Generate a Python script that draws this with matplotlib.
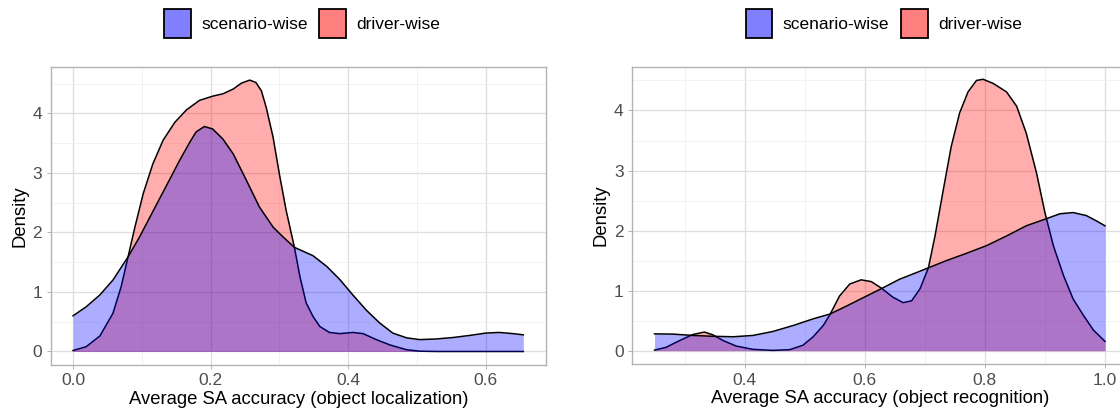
import matplotlib
matplotlib.use("Agg")
import matplotlib.pyplot as plt
from matplotlib.patches import Patch
from matplotlib.ticker import MultipleLocator

# Density curves (x, density)
loc_scen_x = [0.0, 0.019, 0.039, 0.058, 0.080, 0.097, 0.116, 0.136, 0.155, 0.170,
              0.179, 0.191, 0.203, 0.218, 0.233, 0.252, 0.271, 0.291, 0.305, 0.322,
              0.349, 0.369, 0.388, 0.407, 0.427, 0.446, 0.465, 0.485, 0.504, 0.528,
              0.553, 0.577, 0.601, 0.620, 0.640, 0.655]
loc_scen_y = [0.60, 0.75, 0.95, 1.20, 1.59, 1.93, 2.35, 2.79, 3.21, 3.52,
              3.69, 3.78, 3.74, 3.57, 3.32, 2.88, 2.43, 2.09, 1.93, 1.75,
              1.61, 1.43, 1.21, 0.95, 0.69, 0.48, 0.31, 0.23, 0.20, 0.21,
              0.235, 0.27, 0.31, 0.32, 0.30, 0.28]

loc_drv_x = [0.0, 0.019, 0.039, 0.058, 0.070, 0.080, 0.090, 0.102, 0.116, 0.131,
             0.148, 0.165, 0.184, 0.203, 0.218, 0.233, 0.245, 0.257, 0.266, 0.274,
             0.281, 0.291, 0.300, 0.310, 0.322, 0.330, 0.339, 0.349, 0.359, 0.373,
             0.388, 0.407, 0.422, 0.441, 0.461, 0.485, 0.504, 0.530, 0.600, 0.655]
loc_drv_y = [0.017, 0.08, 0.26, 0.64, 1.09, 1.59, 2.09, 2.65, 3.15, 3.55,
             3.85, 4.06, 4.22, 4.29, 4.33, 4.41, 4.51, 4.56, 4.52, 4.38,
             4.10, 3.60, 2.99, 2.37, 1.75, 1.26, 0.82, 0.59, 0.42, 0.32,
             0.30, 0.32, 0.30, 0.20, 0.11, 0.03, 0.005, 0.0, 0.0, 0.0]

rec_scen_x = [0.25, 0.281, 0.314, 0.347, 0.381, 0.414, 0.447, 0.481, 0.514, 0.542,
              0.569, 0.603, 0.631, 0.658, 0.686, 0.706, 0.736, 0.769, 0.803, 0.836,
              0.869, 0.903, 0.925, 0.947, 0.969, 0.986, 1.0]
rec_scen_y = [0.28, 0.276, 0.254, 0.24, 0.232, 0.254, 0.32, 0.42, 0.53, 0.61,
              0.74, 0.91, 1.05, 1.19, 1.30, 1.38, 1.50, 1.62, 1.75, 1.91,
              2.08, 2.20, 2.28, 2.30, 2.25, 2.16, 2.08]

rec_drv_x = [0.25, 0.269, 0.292, 0.314, 0.333, 0.347, 0.364, 0.386, 0.414, 0.447,
             0.475, 0.497, 0.514, 0.531, 0.542, 0.558, 0.575, 0.594, 0.611, 0.628,
             0.647, 0.664, 0.678, 0.692, 0.706, 0.717, 0.731, 0.744, 0.758, 0.772,
             0.786, 0.797, 0.814, 0.836, 0.853, 0.869, 0.886, 0.900, 0.914, 0.931,
             0.947, 0.964, 0.981, 1.0]
rec_drv_y = [0.01, 0.055, 0.17, 0.27, 0.31, 0.265, 0.17, 0.077, 0.022, 0.005,
             0.017, 0.09, 0.23, 0.42, 0.60, 0.91, 1.11, 1.18, 1.15, 1.04,
             0.89, 0.80, 0.83, 1.03, 1.38, 1.91, 2.69, 3.40, 3.96, 4.31,
             4.50, 4.52, 4.45, 4.31, 4.07, 3.62, 2.96, 2.30, 1.75, 1.25,
             0.86, 0.59, 0.34, 0.155]

x_labels = ["Average SA accuracy (object localization)",
            "Average SA accuracy (object recognition)"]
x_ticks = [[0.0, 0.2, 0.4, 0.6], [0.4, 0.6, 0.8, 1.0]]
group_names = ["scenario-wise", "driver-wise"]

BLUE = "#0000FF"
RED = "#FF0000"
ALPHA = 0.32
TICK_COLOR = "#4D4D4D"
BORDER = "#B3B3B3"
MAJOR_GRID = "#DEDEDE"
MINOR_GRID = "#EDEDED"

plt.rcParams["font.family"] = ["Liberation Sans", "DejaVu Sans"]

fig = plt.figure(figsize=(11.2, 4.12), dpi=100)
ax1 = fig.add_axes([0.0451, 0.114, 0.4424, 0.7233])
ax2 = fig.add_axes([0.5643, 0.116, 0.4424, 0.7215])

panels = [
    (ax1, loc_scen_x, loc_scen_y, loc_drv_x, loc_drv_y, (-0.0328, 0.688), (-0.2275, 4.78)),
    (ax2, rec_scen_x, rec_scen_y, rec_drv_x, rec_drv_y, (0.2125, 1.0375), (-0.225, 4.725)),
]

for i, (ax, sx, sy, dx, dy, xlim, ylim) in enumerate(panels):
    # driver-wise drawn first, scenario-wise layered on top
    ax.fill_between(dx, dy, 0, color=RED, alpha=ALPHA, linewidth=0, zorder=2)
    ax.plot(dx, dy, color="black", linewidth=1.1, zorder=3, solid_joinstyle="round")
    ax.fill_between(sx, sy, 0, color=BLUE, alpha=ALPHA, linewidth=0, zorder=4)
    ax.plot(sx, sy, color="black", linewidth=1.1, zorder=5, solid_joinstyle="round")

    ax.set_xlim(*xlim)
    ax.set_ylim(*ylim)
    ax.set_xticks(x_ticks[i])
    ax.set_xticklabels([f"{t:.1f}" for t in x_ticks[i]])
    ax.xaxis.set_minor_locator(MultipleLocator(0.1))
    ax.set_yticks([0, 1, 2, 3, 4])
    ax.yaxis.set_minor_locator(MultipleLocator(0.5))
    ax.grid(True, which="major", color=MAJOR_GRID, linewidth=0.9, zorder=0)
    ax.grid(True, which="minor", color=MINOR_GRID, linewidth=0.5, zorder=0)
    ax.set_axisbelow(True)
    ax.tick_params(which="major", length=3, width=0.7, color=BORDER,
                   labelsize=12.5, labelcolor=TICK_COLOR, pad=3)
    ax.tick_params(which="minor", length=0)
    for sp in ax.spines.values():
        sp.set_color(BORDER)
        sp.set_linewidth(1.0)
    ax.set_xlabel(x_labels[i], fontsize=13.3, color="black", labelpad=2)
    ax.set_ylabel("Density", fontsize=13.3, color="black", labelpad=3)

handles = [Patch(facecolor="#7F7FFF", edgecolor="black", linewidth=1.3),
           Patch(facecolor="#FF7F7F", edgecolor="black", linewidth=1.3)]
for cx in (0.270, 0.789):
    fig.legend(handles, group_names, loc="center", bbox_to_anchor=(cx, 1 - 23.5 / 412),
               ncol=2, frameon=False, fontsize=12.5, handlelength=1.55, handleheight=2.2,
               handletextpad=0.6, columnspacing=0.65, borderaxespad=0, borderpad=0)

fig.savefig("out.png", dpi=100)
